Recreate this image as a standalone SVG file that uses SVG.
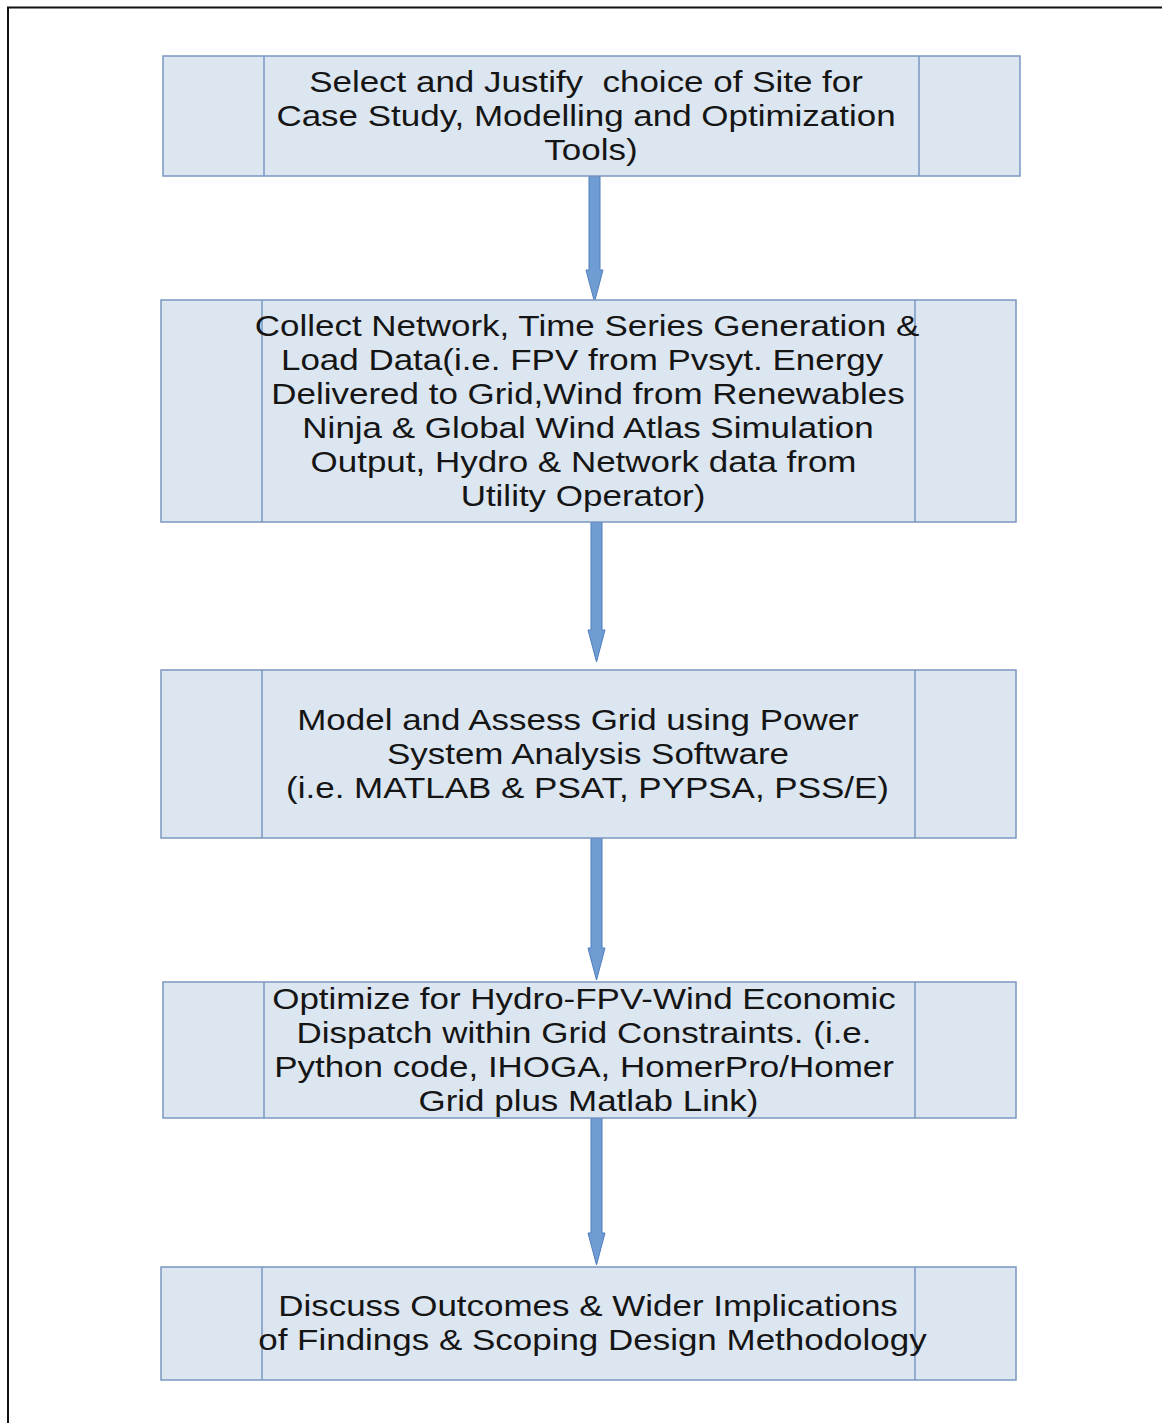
<svg xmlns="http://www.w3.org/2000/svg" width="1162" height="1423" viewBox="0 0 1162 1423">
  <style>
    .frame { fill: none; stroke: #111; stroke-width: 2; }
    .box { fill: #dce6f0; stroke: #7b97c0; stroke-width: 1.5; }
    .div { stroke: #7b97c0; stroke-width: 1.5; }
    .lbl { font-family: "Liberation Sans", Arial, sans-serif; font-size: 29px; fill: #151515; text-anchor: middle; white-space: pre; }
    .arrow { fill: #6f9cd2; stroke: #4f7fbd; stroke-width: 1; }
  </style>
  <rect width="1162" height="1423" fill="#fff"/>
  <!-- page frame -->
  <path class="frame" d="M8,1423 V7.5 H1162"/>

  <g id="connectors">
    <path class="arrow" d="M589,176 H600 V270 H603 L594.5,302 L586,270 H589 Z"/>
    <path class="arrow" d="M591,522 H602 V630 H605 L596.5,662 L588,630 H591 Z"/>
    <path class="arrow" d="M591,838 H602 V948 H605 L596.5,980 L588,948 H591 Z"/>
    <path class="arrow" d="M591,1118 H602 V1233 H605 L596.5,1265 L588,1233 H591 Z"/>
  </g>

  <g id="step1">
    <rect class="box" x="163" y="56" width="857" height="120"/>
    <line class="div" x1="264" y1="56" x2="264" y2="176"/>
    <line class="div" x1="919" y1="56" x2="919" y2="176"/>
    <g transform="translate(586 0) scale(1.206 1)">
      <text class="lbl" x="0" y="92" xml:space="preserve">Select and Justify  choice of Site for</text>
      <text class="lbl" x="0" y="126">Case Study, Modelling and Optimization</text>
      <text class="lbl" x="4.1" y="160">Tools)</text>
    </g>
  </g>

  <g id="step2">
    <rect class="box" x="161" y="300" width="855" height="222"/>
    <line class="div" x1="262" y1="300" x2="262" y2="522"/>
    <line class="div" x1="915" y1="300" x2="915" y2="522"/>
    <g transform="translate(587 0) scale(1.206 1)">
      <text class="lbl" x="0" y="336">Collect Network, Time Series Generation &amp;</text>
      <text class="lbl" x="-4.1" y="370">Load Data(i.e. FPV from Pvsyt. Energy</text>
      <text class="lbl" x="0.8" y="404">Delivered to Grid,Wind from Renewables</text>
      <text class="lbl" x="0.8" y="438">Ninja &amp; Global Wind Atlas Simulation</text>
      <text class="lbl" x="-2.9" y="472">Output, Hydro &amp; Network data from</text>
      <text class="lbl" x="-3.3" y="506">Utility Operator)</text>
    </g>
  </g>

  <g id="step3">
    <rect class="box" x="161" y="670" width="855" height="168"/>
    <line class="div" x1="262" y1="670" x2="262" y2="838"/>
    <line class="div" x1="915" y1="670" x2="915" y2="838"/>
    <g transform="translate(587.5 0) scale(1.206 1)">
      <text class="lbl" x="-7.9" y="730">Model and Assess Grid using Power</text>
      <text class="lbl" x="0.4" y="764">System Analysis Software</text>
      <text class="lbl" x="0" y="798">(i.e. MATLAB &amp; PSAT, PYPSA, PSS/E)</text>
    </g>
  </g>

  <g id="step4">
    <rect class="box" x="163" y="982" width="853" height="136"/>
    <line class="div" x1="264" y1="982" x2="264" y2="1118"/>
    <line class="div" x1="915" y1="982" x2="915" y2="1118"/>
    <g transform="translate(584 0) scale(1.206 1)">
      <text class="lbl" x="0" y="1009">Optimize for Hydro-FPV-Wind Economic</text>
      <text class="lbl" x="0" y="1043">Dispatch within Grid Constraints. (i.e.</text>
      <text class="lbl" x="0" y="1077">Python code, IHOGA, HomerPro/Homer</text>
      <text class="lbl" x="3.7" y="1111">Grid plus Matlab Link)</text>
    </g>
  </g>

  <g id="step5">
    <rect class="box" x="161" y="1267" width="855" height="113"/>
    <line class="div" x1="262" y1="1267" x2="262" y2="1380"/>
    <line class="div" x1="915" y1="1267" x2="915" y2="1380"/>
    <g transform="translate(588 0) scale(1.206 1)">
      <text class="lbl" x="0" y="1316">Discuss Outcomes &amp; Wider Implications</text>
      <text class="lbl" x="3.7" y="1350">of Findings &amp; Scoping Design Methodology</text>
    </g>
  </g>
</svg>
